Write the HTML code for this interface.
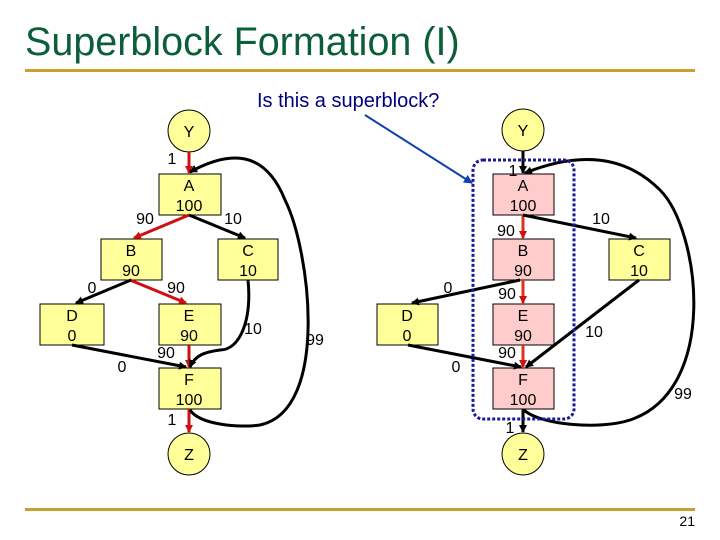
<!DOCTYPE html>
<html><head><meta charset="utf-8"><style>
html,body{margin:0;padding:0;background:#fff;}
svg{display:block;font-family:"Liberation Sans",Arial,sans-serif;}
</style></head><body>
<svg width="720" height="540" viewBox="0 0 720 540" xmlns="http://www.w3.org/2000/svg">
<defs>
<marker id="ak" markerWidth="8" markerHeight="8" refX="7" refY="4" orient="auto" markerUnits="userSpaceOnUse"><path d="M0,0 L8,4 L0,8 z" fill="#000"/></marker>
<marker id="ar" markerWidth="8" markerHeight="8" refX="7" refY="4" orient="auto" markerUnits="userSpaceOnUse"><path d="M0,0 L8,4 L0,8 z" fill="#d01010"/></marker>
<marker id="ab" markerWidth="9" markerHeight="9" refX="8" refY="4.5" orient="auto" markerUnits="userSpaceOnUse"><path d="M0,0 L9,4.5 L0,9 z" fill="#1040b0"/></marker>
</defs>
<text x="25" y="55" font-size="39.5" fill="#0b5e38">Superblock Formation (I)</text>
<rect x="25" y="69" width="670" height="3" fill="#c8a030"/>
<rect x="25" y="508" width="670" height="3" fill="#c8a030"/>
<text x="695" y="526" font-size="14" text-anchor="end" fill="#000">21</text>
<text x="257" y="107" font-size="20" fill="#000080">Is this a superblock?</text>

<g font-size="16" text-anchor="middle" fill="#000">
<!-- LEFT GRAPH -->
<g stroke="#000" stroke-width="1">
<circle cx="189" cy="131" r="21" fill="#ffff99"/>
<circle cx="189" cy="454" r="21" fill="#ffff99"/>
<rect x="159" y="174" width="62" height="41" fill="#ffff99"/>
<rect x="101" y="239" width="61" height="41" fill="#ffff99"/>
<rect x="218" y="239" width="60" height="41" fill="#ffff99"/>
<rect x="40" y="304" width="64" height="41" fill="#ffff99"/>
<rect x="159" y="304" width="62" height="41" fill="#ffff99"/>
<rect x="159" y="368" width="62" height="41" fill="#ffff99"/>
</g>
<text x="189" y="137">Y</text><text x="189" y="460">Z</text>
<text x="189" y="191">A</text><text x="189" y="211">100</text>
<text x="131" y="256">B</text><text x="131" y="276">90</text>
<text x="248" y="256">C</text><text x="248" y="276">10</text>
<text x="72" y="321">D</text><text x="72" y="341">0</text>
<text x="189" y="321">E</text><text x="189" y="341">90</text>
<text x="189" y="385">F</text><text x="189" y="405">100</text>
<g fill="none" stroke-width="3">
<line x1="189" y1="152" x2="189" y2="173" stroke="#d01010" marker-end="url(#ar)"/>
<line x1="189" y1="215" x2="134" y2="238" stroke="#d01010" marker-end="url(#ar)"/>
<line x1="130" y1="280" x2="186" y2="303" stroke="#d01010" marker-end="url(#ar)"/>
<line x1="189" y1="345" x2="189" y2="367" stroke="#d01010" marker-end="url(#ar)"/>
<line x1="189" y1="409" x2="189" y2="432" stroke="#d01010" marker-end="url(#ar)"/>
<line x1="189" y1="215" x2="245" y2="238" stroke="#000" marker-end="url(#ak)"/>
<line x1="131" y1="280" x2="76" y2="303" stroke="#000" marker-end="url(#ak)"/>
<path d="M72,345 L186,367" stroke="#000" marker-end="url(#ak)"/>
<path d="M248,280 C252,320 240,350 220,350 C205,352 195,355 190,367" stroke="#000" marker-end="url(#ak)"/>
<path d="M190,410 C200,425 240,428 260,425 C330,410 310,250 285,200 C265,150 230,150 190,172" stroke="#000" marker-end="url(#ak)"/>
</g>
<text x="172" y="164">1</text>
<text x="145" y="224">90</text>
<text x="233" y="224">10</text>
<text x="92" y="293">0</text>
<text x="176" y="293">90</text>
<text x="253" y="334">10</text>
<text x="166" y="358">90</text>
<text x="122" y="372">0</text>
<text x="172" y="425">1</text>
<text x="315" y="345">99</text>

<!-- RIGHT GRAPH -->
<g stroke="#000" stroke-width="1">
<circle cx="523" cy="130" r="21" fill="#ffff99"/>
<circle cx="523" cy="454" r="21" fill="#ffff99"/>
<rect x="493" y="174" width="61" height="41" fill="#ffcccc"/>
<rect x="493" y="239" width="61" height="41" fill="#ffcccc"/>
<rect x="493" y="304" width="61" height="41" fill="#ffcccc"/>
<rect x="493" y="368" width="61" height="41" fill="#ffcccc"/>
<rect x="609" y="239" width="61" height="41" fill="#ffff99"/>
<rect x="377" y="304" width="61" height="41" fill="#ffff99"/>
</g>
<text x="523" y="136">Y</text><text x="523" y="460">Z</text>
<text x="523" y="191">A</text><text x="523" y="211">100</text>
<text x="523" y="256">B</text><text x="523" y="276">90</text>
<text x="523" y="321">E</text><text x="523" y="341">90</text>
<text x="523" y="385">F</text><text x="523" y="405">100</text>
<text x="639" y="256">C</text><text x="639" y="276">10</text>
<text x="407" y="321">D</text><text x="407" y="341">0</text>
<g fill="none" stroke-width="3">
<line x1="523" y1="151" x2="523" y2="173" stroke="#000" marker-end="url(#ak)"/>
<line x1="523" y1="215" x2="523" y2="238" stroke="#e03020" marker-end="url(#ar)"/>
<line x1="523" y1="280" x2="523" y2="303" stroke="#e03020" marker-end="url(#ar)"/>
<line x1="523" y1="345" x2="523" y2="367" stroke="#e03020" marker-end="url(#ar)"/>
<line x1="523" y1="409" x2="523" y2="432" stroke="#000" marker-end="url(#ak)"/>
<line x1="523" y1="215" x2="636" y2="238" stroke="#000" marker-end="url(#ak)"/>
<line x1="520" y1="280" x2="412" y2="303" stroke="#000" marker-end="url(#ak)"/>
<line x1="408" y1="345" x2="521" y2="367" stroke="#000" marker-end="url(#ak)"/>
<line x1="639" y1="280" x2="526" y2="367" stroke="#000" marker-end="url(#ak)"/>
<path d="M524,410 C540,425 600,430 630,420 C720,390 700,230 660,190 C620,150 570,155 525,173" stroke="#000" marker-end="url(#ak)"/>
</g>
<rect x="473" y="160" width="101" height="259" rx="10" fill="none" stroke="#1a1a9a" stroke-width="3" stroke-dasharray="3,2"/>
<line x1="365" y1="115" x2="472" y2="183" stroke="#1040b0" stroke-width="2" marker-end="url(#ab)"/>
<text x="513" y="176">1</text>
<text x="506" y="236">90</text>
<text x="601" y="224">10</text>
<text x="448" y="293">0</text>
<text x="507" y="299">90</text>
<text x="594" y="337">10</text>
<text x="507" y="358">90</text>
<text x="456" y="372">0</text>
<text x="510" y="433">1</text>
<text x="683" y="399">99</text>
</g>
</svg>
</body></html>
